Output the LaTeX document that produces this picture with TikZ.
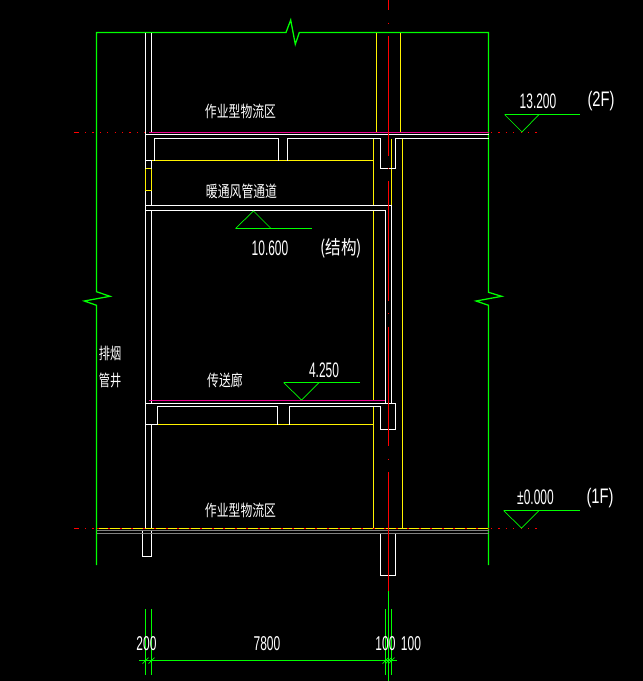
\documentclass[tikz,border=0pt]{standalone}
\usepackage{fontspec}
\setmainfont{Liberation Sans}
\newfontfamily\cjk{Noto Sans CJK SC}
\begin{document}
\begin{tikzpicture}[x=1pt, y=-1pt, line width=1.25pt,
    wall/.style = {draw=white},
    finish/.style = {draw=yellow},
    floor/.style = {draw=magenta},
    outline/.style = {draw=green},
    thinmark/.style = {draw=green, line width=.7pt},
    axis/.style = {draw=red, dash pattern=on 119.7pt off 12.3pt on 1pt off 12.3pt, dash phase=109.3pt},
    level/.style = {draw=red, dash pattern=on 1.2pt off 6.2pt},
    room/.style = {white, inner sep=0pt, font=\cjk\fontsize{16}{16}\selectfont, xscale=.74},
    shaft/.style = {white, inner sep=0pt, font=\cjk\fontsize{16}{16}\selectfont, xscale=.7},
    struct/.style = {white, inner sep=0pt, font=\cjk\fontsize{19}{19}\selectfont, xscale=.82},
    num/.style = {white, inner sep=0pt, font=\fontsize{21}{21}\selectfont, xscale=.57},
    paren/.style = {white, inner sep=0pt, font=\fontsize{21}{21}\selectfont, xscale=.7},
    dimtext/.style = {white, inner sep=0pt, font=\fontsize{20}{20}\selectfont, xscale=.6}]
    \fill[black, use as bounding box] (0,0) rectangle (643,681);
    % levels
    \draw[level] (85,132.5) -- (146,132.5);
    \draw[level] (491,132.5) -- (538,132.5);
    \draw[draw=red] (74,132.5) -- (79,132.5);
    \draw[draw=red] (74,528.5) -- (79,528.5);
    \draw[level] (85,528.5) -- (96,528.5);
    \draw[level] (491,528.5) -- (538,528.5);
    % outline with break marks
    \draw[outline] (96.5,565) -- (96.5,305.3) -- (84.3,301) -- (110,296.3) -- (96.5,291.7)
        -- (96.5,32.5) -- (286,32.5) -- (290.7,20) -- (295.3,44.3) -- (299.3,32.5)
        -- (488.5,32.5) -- (488.5,292.3) -- (501.7,296.3) -- (476,301) -- (488.5,305.3) -- (488.5,565);
    % yellow finish lines
    \draw[finish] (376.5,32.5) -- (376.5,132);
    \draw[finish] (400.5,32.5) -- (400.5,132);
    \draw[finish] (151.5,160.5) -- (373.5,160.5);
    \draw[finish] (373.5,138.5) -- (373.5,205);
    \draw[finish] (373.5,210.5) -- (373.5,400);
    \draw[finish] (373.5,406.5) -- (373.5,528);
    \draw[finish] (391.5,138.5) -- (391.5,205);
    \draw[finish] (402.5,138.5) -- (402.5,528);
    \draw[finish] (157.5,424.5) -- (373.5,424.5);
    \draw[finish] (145.5,168.5) rectangle (151.5,190.5);
    \draw[finish] (96.5,528.5) -- (488.5,528.5);
    % white walls and beams
    \draw[wall] (145.5,32.5) -- (145.5,168.5);
    \draw[wall] (145.5,190.5) -- (145.5,528);
    \draw[wall] (151.5,32.5) -- (151.5,132.5);
    \draw[wall] (151.5,160.5) -- (151.5,168.5);
    \draw[wall] (151.5,190.5) -- (151.5,205.5);
    \draw[wall] (151.5,210.5) -- (151.5,403.5);
    \draw[wall] (151.5,424.5) -- (151.5,528);
    \draw[wall] (145.5,134.5) -- (488.5,134.5);
    \draw[wall] (145.5,160.5) -- (151.5,160.5);
    \draw[wall] (154.5,160.5) -- (154.5,138.5) -- (278.5,138.5) -- (278.5,160.5);
    \draw[wall] (287.5,160.5) -- (287.5,138.5) -- (380.5,138.5) -- (380.5,168.5)
        -- (395.5,168.5) -- (395.5,138.5) -- (488.5,138.5);
    \draw[wall] (145.5,205.5) -- (391.5,205.5);
    \draw[wall] (145.5,210.5) -- (385.5,210.5);
    \draw[wall] (385.5,210.5) -- (385.5,403.5);
    \draw[wall] (391.5,205.5) -- (391.5,403.5);
    \draw[wall] (145.5,403.5) -- (395.5,403.5) -- (395.5,429.5) -- (380.5,429.5) -- (380.5,406.5) -- (289.5,406.5) -- (289.5,424.5);
    \draw[wall] (277.5,424.5) -- (277.5,406.5) -- (157.5,406.5) -- (157.5,424.5) -- (145.5,424.5);
    \draw[wall] (142.5,531) -- (142.5,556.5) -- (151.5,556.5) -- (151.5,531);
    \draw[wall] (380.5,533) -- (380.5,575.5) -- (395.5,575.5) -- (395.5,533);
    % slabs
    \draw[draw=gray] (96.5,530.8) -- (488.5,530.8);
    \draw[draw=gray] (96.5,533.3) -- (488.5,533.3);
    \draw[floor] (149,132.5) -- (488.5,132.5);
    \draw[floor] (148.5,400.5) -- (385,400.5);
    % centre line
    \draw[axis] (388.5,0) -- (388.5,591);
    \draw[draw=red, dash pattern=on 2pt off 9.5pt] (96.5,528.5) -- (488.5,528.5);
    % elevation marks
    \draw[outline] (580,114.5) -- (504.5,114.5);
    \draw[thinmark] (504.5,114.5) -- (522,132) -- (539,114.5);
    \draw[outline] (580,510.5) -- (503.5,510.5);
    \draw[thinmark] (503.5,510.5) -- (521.5,528) -- (539,510.5);
    \draw[outline] (360,382.5) -- (283.5,382.5);
    \draw[thinmark] (283.5,382.5) -- (301.5,400) -- (319,382.5);
    \draw[outline] (311.5,228.5) -- (235.5,228.5);
    \draw[thinmark] (235.5,228.5) -- (253.5,211) -- (271,228.5);
    % dimensions
    \draw[outline] (139,660.5) -- (396.5,660.5);
    \draw[outline] (388.5,591) -- (388.5,681);
    \foreach \dimx in {145.5, 151.5, 385.5, 391.5} {
        \draw[outline] (\dimx,609) -- (\dimx,674.5);
    }
    \foreach \dimx in {145.5, 151.5, 385.5, 388.5, 391.5} {
        \draw[thinmark] (\dimx-3,663.5) -- (\dimx+3,657.5);
    }
    % texts
    \node[room] (zone2) at (240.5,111) {作业型物流区};
    \node[room] (duct) at (241.5,191) {暖通风管通道};
    \node[room] (corridor) at (225,380) {传送廊};
    \node[room] (zone1) at (240.5,510) {作业型物流区};
    \node[shaft] (shaft1) at (110,353) {排烟};
    \node[shaft] (shaft2) at (110,380) {管井};
    \node[num] (lvl2) at (538,101) {13.200};
    \node[paren] (tag2) at (601,101.5) {(2F)};
    \node[num] (lvlb) at (270,248) {10.600};
    \node[struct] (structure) at (341,248) {(结构)};
    \node[num] (lvlc) at (324,370) {4.250};
    \node[num] (lvl1) at (535.5,497) {±0.000};
    \node[paren] (tag1) at (600,498) {(1F)};
    \node[dimtext] (dima) at (146.5,644) {200};
    \node[dimtext] (dimb) at (267,644) {7800};
    \node[dimtext] (dimc) at (385.5,644) {100};
    \node[dimtext] (dimd) at (411,644) {100};
\end{tikzpicture}
\end{document}
